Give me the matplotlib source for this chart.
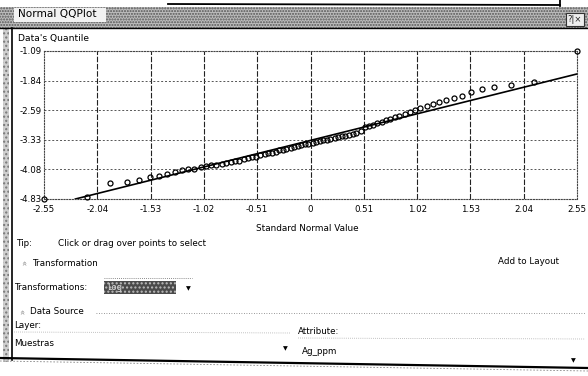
import matplotlib
matplotlib.use("Agg")
import matplotlib.pyplot as plt
from matplotlib.patches import Rectangle
from matplotlib.lines import Line2D

# ===============================================================
# Values read off the Normal QQPlot dialog ...
# ===============================================================

normal_values = [-2.55, -2.14, -1.92, -1.76, -1.64, -1.54, -1.45, -1.37, -1.30, -1.23,
                 -1.17, -1.11, -1.05, -1.00, -0.95, -0.90, -0.85, -0.81, -0.76, -0.72,
                 -0.68, -0.64, -0.60, -0.56, -0.52, -0.48, -0.44, -0.41, -0.37, -0.33,
                 -0.30, -0.26, -0.23, -0.19, -0.16, -0.12, -0.09, -0.05, -0.02, 0.02,
                 0.05, 0.09, 0.12, 0.16, 0.19, 0.23, 0.26, 0.30, 0.33, 0.37,
                 0.41, 0.44, 0.48, 0.52, 0.56, 0.60, 0.64, 0.68, 0.72, 0.76,
                 0.81, 0.85, 0.90, 0.95, 1.00, 1.05, 1.11, 1.17, 1.23, 1.30,
                 1.37, 1.45, 1.54, 1.64, 1.76, 1.92, 2.14, 2.55]

data_quantiles = [-4.83, -4.78, -4.42, -4.40, -4.36, -4.28, -4.24, -4.20, -4.16, -4.10,
                  -4.08, -4.06, -4.03, -4.00, -3.98, -3.96, -3.94, -3.92, -3.90, -3.88,
                  -3.86, -3.83, -3.80, -3.78, -3.76, -3.73, -3.70, -3.68, -3.66, -3.63,
                  -3.60, -3.58, -3.56, -3.53, -3.51, -3.49, -3.47, -3.45, -3.43, -3.41,
                  -3.39, -3.37, -3.35, -3.33, -3.31, -3.29, -3.27, -3.25, -3.23, -3.21,
                  -3.19, -3.16, -3.12, -3.02, -2.98, -2.95, -2.91, -2.88, -2.84, -2.80,
                  -2.76, -2.72, -2.68, -2.63, -2.58, -2.53, -2.48, -2.42, -2.38, -2.32,
                  -2.28, -2.22, -2.12, -2.04, -2.00, -1.94, -1.88, -1.09]

ref_line_x = [-2.25, 2.55]
ref_line_y = [-4.83, -1.67]

x_ticks = [-2.55, -2.04, -1.53, -1.02, -0.51, 0.0, 0.51, 1.02, 1.53, 2.04, 2.55]
x_tick_labels = ["-2.55", "-2.04", "-1.53", "-1.02", "-0.51", "0",
                 "0.51", "1.02", "1.53", "2.04", "2.55"]
y_ticks = [-4.83, -4.08, -3.33, -2.59, -1.84, -1.09]
y_tick_labels = ["-4.83", "-4.08", "-3.33", "-2.59", "-1.84", "-1.09"]

W, H = 588, 376


def fx(px):
    return px / W


def fy(py):
    return 1.0 - py / H


def hline(fig, x0, x1, y0, y1, **kw):
    fig.add_artist(Line2D([fx(x0), fx(x1)], [fy(y0), fy(y1)],
                          transform=fig.transFigure, **kw))


def box(fig, x0, y0, x1, y1, **kw):
    fig.add_artist(Rectangle((fx(x0), fy(y1)), (x1 - x0) / W, (y1 - y0) / H,
                             transform=fig.transFigure, **kw))


def label(fig, px, py, s, **kw):
    kw.setdefault("fontsize", 6.3)
    kw.setdefault("va", "center")
    fig.text(fx(px), fy(py), s, **kw)


def main():
    fig = plt.figure(figsize=(5.88, 3.76), dpi=100)
    fig.patch.set_facecolor("white")

    # window chrome above the dialog ...
    hline(fig, 168, 560, 4, 5, color="black", lw=1.3)
    hline(fig, 560, 560, 0, 6, color="black", lw=1.3)

    # title bar (dithered grey in the scan) ...
    box(fig, 0, 7, 588, 28, facecolor="#bdbdbd", edgecolor="#555555",
        hatch="......", lw=0)
    box(fig, 14, 8, 106, 22, facecolor="#f2f2f2", lw=0)
    hline(fig, 0, 588, 28, 28, color="black", lw=1.0)
    label(fig, 18, 14, "Normal QQPlot", fontsize=7.6)
    box(fig, 566, 13, 584, 26, facecolor="#eeeeee", edgecolor="#333333", lw=0.8)
    label(fig, 575, 19.5, "?|×", fontsize=6, ha="center", color="#222222")

    # dialog left border ...
    box(fig, 3, 28, 9, 362, facecolor="#cfcfcf", edgecolor="#777777",
        hatch="....", lw=0)
    hline(fig, 12, 12, 28, 360, color="black", lw=1.2)

    # the QQ plot ...
    ax = fig.add_axes([fx(44), fy(199), (577 - 44) / W, (199 - 51) / H])
    ax.set_xlim(-2.55, 2.55)
    ax.set_ylim(-4.83, -1.09)

    for x in x_ticks[1:-1]:
        ax.axvline(x, color="#222222", lw=0.8, ls=(0, (5, 1.5)), zorder=1)
    for y in y_ticks[1:-1]:
        ax.axhline(y, color="#555555", lw=0.7, ls=(0, (2, 2)), zorder=1)

    for side in ["left", "right", "top", "bottom"]:
        ax.spines[side].set_linestyle((0, (1, 1.5)))
        ax.spines[side].set_color("#444444")
        ax.spines[side].set_linewidth(0.8)

    ax.plot(ref_line_x, ref_line_y, color="black", lw=1.2, zorder=2)
    ax.plot(normal_values, data_quantiles, "o", ms=3.6, mfc="none",
            mec="black", mew=0.9, clip_on=False, zorder=3)

    ax.set_xticks(x_ticks)
    ax.set_xticklabels(x_tick_labels)
    ax.set_yticks(y_ticks)
    ax.set_yticklabels(y_tick_labels)
    ax.tick_params(axis="both", length=0, labelsize=6.2)
    ax.tick_params(axis="x", pad=4)
    ax.tick_params(axis="y", pad=1.5)

    label(fig, 18, 39, "Data's Quantile", fontsize=6.6)
    label(fig, 307, 228, "Standard Normal Value", fontsize=6.4, ha="center")

    # controls below the plot ...
    label(fig, 16, 244, "Tip:")
    label(fig, 58, 244, "Click or drag over points to select")
    label(fig, 22, 263, "«", color="#888888", rotation=-90, ha="center")
    label(fig, 32, 263, "Transformation")
    label(fig, 498, 262, "Add to Layout")

    label(fig, 14, 287, "Transformations:")
    hline(fig, 104, 192, 278, 278, color="#666666", lw=0.6, ls=(0, (1, 1.5)))
    box(fig, 104, 281, 176, 294, facecolor="#4a4a4a", edgecolor="#bbbbbb",
        hatch="....", lw=0)
    label(fig, 107, 287.5, "Log", color="#dddddd", fontsize=6)
    label(fig, 188, 289, "▼", fontsize=4.5, ha="center")

    label(fig, 20, 312, "«", color="#888888", rotation=-90, ha="center")
    label(fig, 30, 312, "Data Source")
    hline(fig, 96, 585, 313, 313, color="#777777", lw=0.6, ls=(0, (1, 2)))

    label(fig, 14, 325, "Layer:")
    hline(fig, 14, 290, 332, 333, color="#888888", lw=0.5, ls=(0, (1, 2)))
    label(fig, 298, 332, "Attribute:")
    hline(fig, 298, 585, 338, 339, color="#888888", lw=0.5, ls=(0, (1, 2)))

    label(fig, 14, 343, "Muestras")
    label(fig, 285, 349, "▼", fontsize=4.5, ha="center")
    label(fig, 302, 351, "Ag_ppm")
    label(fig, 573, 361, "▼", fontsize=4.5, ha="center")

    # bottom border of the dialog ...
    hline(fig, 0, 588, 358, 368, color="black", lw=1.6)
    hline(fig, 0, 588, 361, 371, color="#888888", lw=0.6, ls=(0, (2, 2)))

    fig.savefig("out.png", dpi=100)


if __name__ == "__main__":
    main()
